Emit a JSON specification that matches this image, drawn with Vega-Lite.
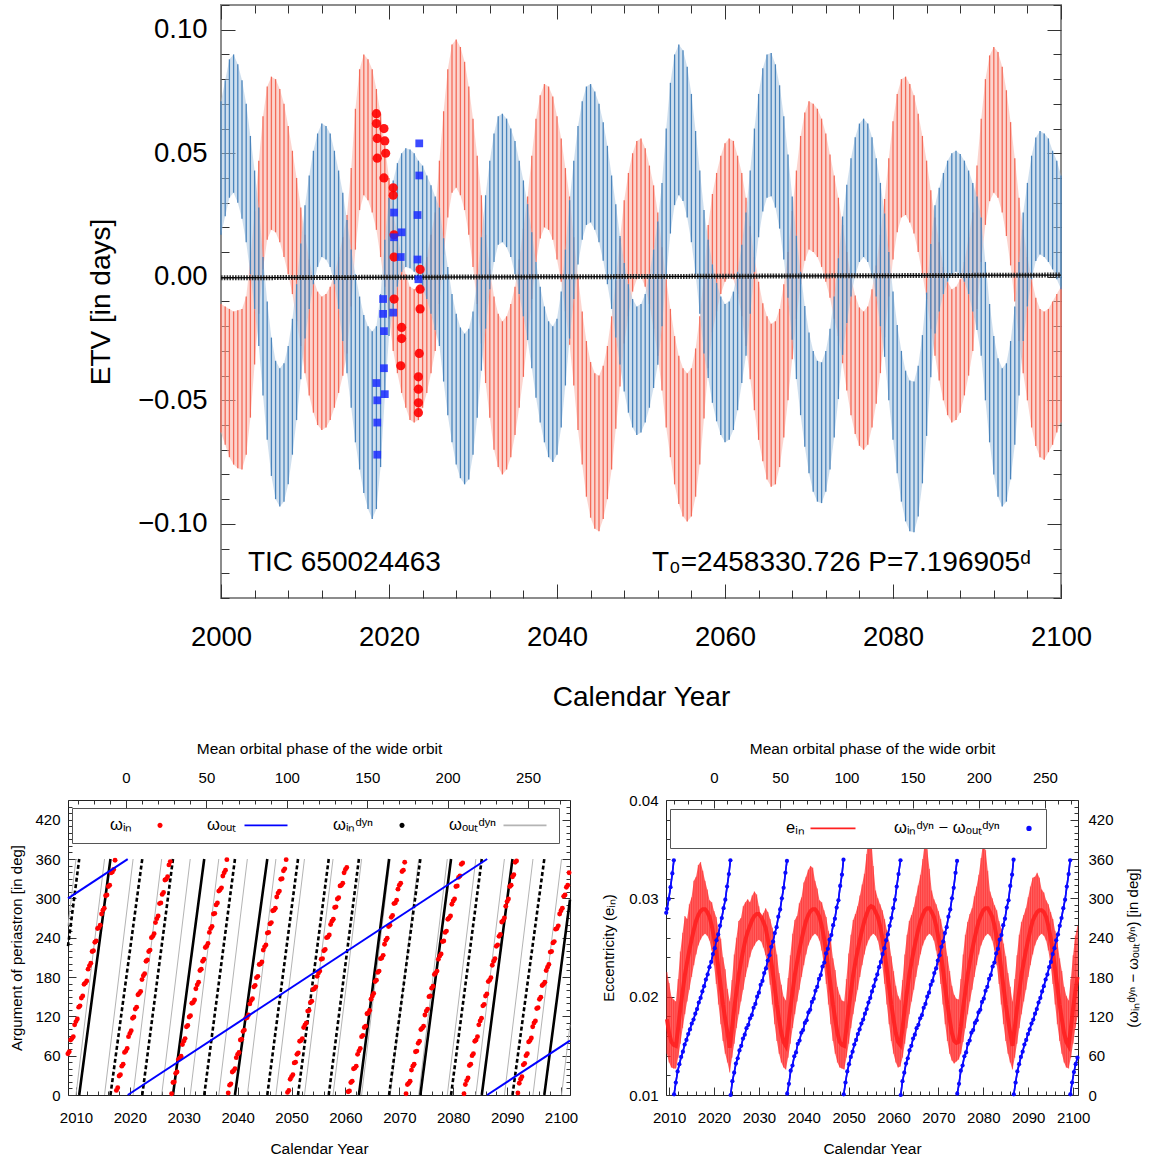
{
"$schema":"https://vega.github.io/schema/vega-lite/v6.json",
"background":"white",
"padding":{"left":9,"top":1,"right":3,"bottom":0},
"config":{"font":"Liberation Sans","axis":{"grid":false,"domain":false,"tickColor":"#333","labelColor":"#000","titleColor":"#000","titleFontWeight":"normal","labelOverlap":false,"labelFlush":false,"labelBound":false},"legend":{"labelFont":"Liberation Sans","titleFont":"Liberation Sans"}},
"resolve":{"scale":{"color":"independent"},"legend":{"color":"independent"}},
"datasets":{
"etv":[
{"x":2000,"rl":-0.063,"rh":-0.011,"bl":0.017,"bh":0.071},
{"x":2000.5,"rl":-0.068,"rh":-0.012,"bl":0.0245,"bh":0.0795},
{"x":2001,"rl":-0.073,"rh":-0.013,"bl":0.032,"bh":0.088},
{"x":2001.5,"rl":-0.076,"rh":-0.014,"bl":0.034,"bh":0.090},
{"x":2002,"rl":-0.0775,"rh":-0.0135,"bl":0.030,"bh":0.086},
{"x":2002.5,"rl":-0.078,"rh":-0.013,"bl":0.0235,"bh":0.0795},
{"x":2003,"rl":-0.072,"rh":-0.008,"bl":0.014,"bh":0.070},
{"x":2003.5,"rl":-0.057,"rh":0.0067,"bl":0.001,"bh":0.057},
{"x":2004,"rl":-0.0355,"rh":0.0265,"bl":-0.013,"bh":0.043},
{"x":2004.5,"rl":-0.015,"rh":0.047,"bl":-0.028,"bh":0.028},
{"x":2005,"rl":0.003,"rh":0.065,"bl":-0.048,"bh":0.008},
{"x":2005.5,"rl":0.015,"rh":0.077,"bl":-0.066,"bh":-0.010},
{"x":2006,"rl":0.019,"rh":0.081,"bl":-0.0806,"bh":-0.0246},
{"x":2006.5,"rl":0.018,"rh":0.080,"bl":-0.090,"bh":-0.034},
{"x":2007,"rl":0.014,"rh":0.076,"bl":-0.093,"bh":-0.037},
{"x":2007.5,"rl":0.008,"rh":0.070,"bl":-0.091,"bh":-0.035},
{"x":2008,"rl":0.001,"rh":0.061,"bl":-0.084,"bh":-0.028},
{"x":2008.5,"rl":-0.007,"rh":0.051,"bl":-0.072,"bh":-0.017},
{"x":2009,"rl":-0.018,"rh":0.040,"bl":-0.058,"bh":-0.003},
{"x":2009.5,"rl":-0.028,"rh":0.028,"bl":-0.0415,"bh":0.0135},
{"x":2010,"rl":-0.039,"rh":0.017,"bl":-0.025,"bh":0.029},
{"x":2010.5,"rl":-0.048,"rh":0.007,"bl":-0.013,"bh":0.041},
{"x":2011,"rl":-0.055,"rh":-0.001,"bl":-0.003,"bh":0.051},
{"x":2011.5,"rl":-0.060,"rh":-0.006,"bl":0.004,"bh":0.058},
{"x":2012,"rl":-0.062,"rh":-0.008,"bl":0.008,"bh":0.062},
{"x":2012.5,"rl":-0.061,"rh":-0.007,"bl":0.007,"bh":0.061},
{"x":2013,"rl":-0.058,"rh":-0.004,"bl":0.004,"bh":0.058},
{"x":2013.5,"rl":-0.053,"rh":0.001,"bl":-0.003,"bh":0.051},
{"x":2014,"rl":-0.047,"rh":0.008,"bl":-0.013,"bh":0.043},
{"x":2014.5,"rl":-0.040,"rh":0.016,"bl":-0.026,"bh":0.034},
{"x":2015,"rl":-0.031,"rh":0.025,"bl":-0.039,"bh":0.023},
{"x":2015.5,"rl":-0.012,"rh":0.044,"bl":-0.053,"bh":0.011},
{"x":2016,"rl":0.011,"rh":0.068,"bl":-0.067,"bh":0.001},
{"x":2016.5,"rl":0.027,"rh":0.084,"bl":-0.078,"bh":-0.008},
{"x":2017,"rl":0.033,"rh":0.090,"bl":-0.0875,"bh":-0.0155},
{"x":2017.5,"rl":0.031,"rh":0.088,"bl":-0.094,"bh":-0.020},
{"x":2018,"rl":0.026,"rh":0.084,"bl":-0.098,"bh":-0.022},
{"x":2018.5,"rl":0.019,"rh":0.076,"bl":-0.094,"bh":-0.020},
{"x":2019,"rl":0.008,"rh":0.066,"bl":-0.077,"bh":-0.007},
{"x":2019.5,"rl":-0.004,"rh":0.053,"bl":-0.049,"bh":0.015},
{"x":2020,"rl":-0.017,"rh":0.040,"bl":-0.024,"bh":0.032},
{"x":2020.5,"rl":-0.030,"rh":0.026,"bl":-0.013,"bh":0.039},
{"x":2021,"rl":-0.039,"rh":0.017,"bl":-0.004,"bh":0.046},
{"x":2021.5,"rl":-0.047,"rh":0.008,"bl":0.002,"bh":0.050},
{"x":2022,"rl":-0.053,"rh":0.001,"bl":0.004,"bh":0.052},
{"x":2022.5,"rl":-0.058,"rh":-0.004,"bl":0.0035,"bh":0.0515},
{"x":2023,"rl":-0.059,"rh":-0.005,"bl":0.002,"bh":0.050},
{"x":2023.5,"rl":-0.058,"rh":-0.004,"bl":-0.001,"bh":0.047},
{"x":2024,"rl":-0.053,"rh":0.001,"bl":-0.005,"bh":0.045},
{"x":2024.5,"rl":-0.047,"rh":0.008,"bl":-0.009,"bh":0.041},
{"x":2025,"rl":-0.039,"rh":0.017,"bl":-0.015,"bh":0.037},
{"x":2025.5,"rl":-0.030,"rh":0.026,"bl":-0.0215,"bh":0.0325},
{"x":2026,"rl":-0.011,"rh":0.047,"bl":-0.028,"bh":0.028},
{"x":2026.5,"rl":0.009,"rh":0.067,"bl":-0.0424,"bh":0.0156},
{"x":2027,"rl":0.024,"rh":0.084,"bl":-0.056,"bh":0.004},
{"x":2027.5,"rl":0.034,"rh":0.094,"bl":-0.067,"bh":-0.007},
{"x":2028,"rl":0.036,"rh":0.096,"bl":-0.076,"bh":-0.015},
{"x":2028.5,"rl":0.033,"rh":0.093,"bl":-0.0815,"bh":-0.0205},
{"x":2029,"rl":0.027,"rh":0.087,"bl":-0.084,"bh":-0.023},
{"x":2029.5,"rl":0.017,"rh":0.077,"bl":-0.082,"bh":-0.021},
{"x":2030,"rl":0.004,"rh":0.064,"bl":-0.072,"bh":-0.014},
{"x":2030.5,"rl":-0.011,"rh":0.049,"bl":-0.057,"bh":-0.001},
{"x":2031,"rl":-0.027,"rh":0.033,"bl":-0.038,"bh":0.016},
{"x":2031.5,"rl":-0.043,"rh":0.017,"bl":-0.021,"bh":0.033},
{"x":2032,"rl":-0.057,"rh":0.003,"bl":-0.005,"bh":0.047},
{"x":2032.5,"rl":-0.070,"rh":-0.008,"bl":0.006,"bh":0.058},
{"x":2033,"rl":-0.077,"rh":-0.015,"bl":0.013,"bh":0.065},
{"x":2033.5,"rl":-0.080,"rh":-0.018,"bl":0.014,"bh":0.066},
{"x":2034,"rl":-0.078,"rh":-0.016,"bl":0.012,"bh":0.064},
{"x":2034.5,"rl":-0.073,"rh":-0.011,"bl":0.008,"bh":0.060},
{"x":2035,"rl":-0.064,"rh":-0.004,"bl":0.001,"bh":0.055},
{"x":2035.5,"rl":-0.053,"rh":0.007,"bl":-0.007,"bh":0.047},
{"x":2036,"rl":-0.0405,"rh":0.0195,"bl":-0.016,"bh":0.039},
{"x":2036.5,"rl":-0.0255,"rh":0.0325,"bl":-0.0256,"bh":0.0294},
{"x":2037,"rl":-0.009,"rh":0.049,"bl":-0.037,"bh":0.018},
{"x":2037.5,"rl":0.006,"rh":0.064,"bl":-0.049,"bh":0.006},
{"x":2038,"rl":0.0155,"rh":0.0735,"bl":-0.059,"bh":-0.004},
{"x":2038.5,"rl":0.020,"rh":0.078,"bl":-0.067,"bh":-0.012},
{"x":2039,"rl":0.019,"rh":0.077,"bl":-0.073,"bh":-0.018},
{"x":2039.5,"rl":0.015,"rh":0.073,"bl":-0.075,"bh":-0.020},
{"x":2040,"rl":0.007,"rh":0.065,"bl":-0.072,"bh":-0.017},
{"x":2040.5,"rl":-0.002,"rh":0.056,"bl":-0.061,"bh":-0.006},
{"x":2041,"rl":-0.014,"rh":0.044,"bl":-0.044,"bh":0.011},
{"x":2041.5,"rl":-0.0275,"rh":0.0325,"bl":-0.025,"bh":0.031},
{"x":2042,"rl":-0.044,"rh":0.016,"bl":-0.009,"bh":0.047},
{"x":2042.5,"rl":-0.062,"rh":0.000,"bl":0.005,"bh":0.061},
{"x":2043,"rl":-0.076,"rh":-0.014,"bl":0.015,"bh":0.071},
{"x":2043.5,"rl":-0.089,"rh":-0.026,"bl":0.021,"bh":0.077},
{"x":2044,"rl":-0.0975,"rh":-0.0345,"bl":0.022,"bh":0.078},
{"x":2044.5,"rl":-0.102,"rh":-0.039,"bl":0.019,"bh":0.075},
{"x":2045,"rl":-0.103,"rh":-0.040,"bl":0.014,"bh":0.070},
{"x":2045.5,"rl":-0.098,"rh":-0.036,"bl":0.0065,"bh":0.0625},
{"x":2046,"rl":-0.090,"rh":-0.028,"bl":-0.003,"bh":0.053},
{"x":2046.5,"rl":-0.078,"rh":-0.016,"bl":-0.013,"bh":0.041},
{"x":2047,"rl":-0.0615,"rh":-0.0015,"bl":-0.0246,"bh":0.0294},
{"x":2047.5,"rl":-0.0444,"rh":0.0156,"bl":-0.0355,"bh":0.0165},
{"x":2048,"rl":-0.027,"rh":0.031,"bl":-0.0464,"bh":0.0056},
{"x":2048.5,"rl":-0.016,"rh":0.042,"bl":-0.055,"bh":-0.003},
{"x":2049,"rl":-0.006,"rh":0.050,"bl":-0.061,"bh":-0.009},
{"x":2049.5,"rl":-0.001,"rh":0.055,"bl":-0.064,"bh":-0.012},
{"x":2050,"rl":0.000,"rh":0.056,"bl":-0.063,"bh":-0.011},
{"x":2050.5,"rl":-0.004,"rh":0.052,"bl":-0.059,"bh":-0.007},
{"x":2051,"rl":-0.011,"rh":0.045,"bl":-0.053,"bh":0.001},
{"x":2051.5,"rl":-0.021,"rh":0.037,"bl":-0.045,"bh":0.011},
{"x":2052,"rl":-0.032,"rh":0.026,"bl":-0.0356,"bh":0.0224},
{"x":2052.5,"rl":-0.046,"rh":0.012,"bl":-0.020,"bh":0.038},
{"x":2053,"rl":-0.061,"rh":-0.001,"bl":0.000,"bh":0.060},
{"x":2053.5,"rl":-0.073,"rh":-0.013,"bl":0.0175,"bh":0.0785},
{"x":2054,"rl":-0.084,"rh":-0.024,"bl":0.029,"bh":0.090},
{"x":2054.5,"rl":-0.092,"rh":-0.032,"bl":0.033,"bh":0.094},
{"x":2055,"rl":-0.097,"rh":-0.037,"bl":0.0307,"bh":0.0917},
{"x":2055.5,"rl":-0.099,"rh":-0.039,"bl":0.024,"bh":0.085},
{"x":2056,"rl":-0.097,"rh":-0.037,"bl":0.014,"bh":0.074},
{"x":2056.5,"rl":-0.089,"rh":-0.029,"bl":0.001,"bh":0.059},
{"x":2057,"rl":-0.076,"rh":-0.016,"bl":-0.015,"bh":0.043},
{"x":2057.5,"rl":-0.0574,"rh":0.0006,"bl":-0.031,"bh":0.027},
{"x":2058,"rl":-0.037,"rh":0.021,"bl":-0.041,"bh":0.015},
{"x":2058.5,"rl":-0.0225,"rh":0.0335,"bl":-0.051,"bh":0.005},
{"x":2059,"rl":-0.014,"rh":0.042,"bl":-0.0585,"bh":-0.0025},
{"x":2059.5,"rl":-0.007,"rh":0.049,"bl":-0.064,"bh":-0.008},
{"x":2060,"rl":-0.002,"rh":0.054,"bl":-0.067,"bh":-0.011},
{"x":2060.5,"rl":0.000,"rh":0.056,"bl":-0.066,"bh":-0.010},
{"x":2061,"rl":-0.001,"rh":0.055,"bl":-0.062,"bh":-0.006},
{"x":2061.5,"rl":-0.007,"rh":0.049,"bl":-0.054,"bh":0.002},
{"x":2062,"rl":-0.016,"rh":0.042,"bl":-0.043,"bh":0.013},
{"x":2062.5,"rl":-0.028,"rh":0.032,"bl":-0.032,"bh":0.026},
{"x":2063,"rl":-0.0415,"rh":0.0205,"bl":-0.015,"bh":0.043},
{"x":2063.5,"rl":-0.054,"rh":0.008,"bl":0.002,"bh":0.060},
{"x":2064,"rl":-0.066,"rh":-0.002,"bl":0.016,"bh":0.074},
{"x":2064.5,"rl":-0.0747,"rh":-0.0107,"bl":0.0264,"bh":0.0844},
{"x":2065,"rl":-0.082,"rh":-0.016,"bl":0.032,"bh":0.090},
{"x":2065.5,"rl":-0.085,"rh":-0.019,"bl":0.0326,"bh":0.0906},
{"x":2066,"rl":-0.084,"rh":-0.018,"bl":0.028,"bh":0.086},
{"x":2066.5,"rl":-0.077,"rh":-0.013,"bl":0.0195,"bh":0.0775},
{"x":2067,"rl":-0.065,"rh":-0.003,"bl":0.007,"bh":0.065},
{"x":2067.5,"rl":-0.050,"rh":0.010,"bl":-0.0085,"bh":0.0495},
{"x":2068,"rl":-0.0334,"rh":0.0266,"bl":-0.0255,"bh":0.0325},
{"x":2068.5,"rl":-0.017,"rh":0.043,"bl":-0.0414,"bh":0.0166},
{"x":2069,"rl":-0.003,"rh":0.057,"bl":-0.056,"bh":0.002},
{"x":2069.5,"rl":0.0065,"rh":0.0665,"bl":-0.0688,"bh":-0.0118},
{"x":2070,"rl":0.011,"rh":0.071,"bl":-0.0795,"bh":-0.0225},
{"x":2070.5,"rl":0.010,"rh":0.070,"bl":-0.087,"bh":-0.030},
{"x":2071,"rl":0.008,"rh":0.068,"bl":-0.091,"bh":-0.034},
{"x":2071.5,"rl":0.004,"rh":0.064,"bl":-0.0916,"bh":-0.0346},
{"x":2072,"rl":-0.002,"rh":0.058,"bl":-0.087,"bh":-0.030},
{"x":2072.5,"rl":-0.0085,"rh":0.0495,"bl":-0.078,"bh":-0.021},
{"x":2073,"rl":-0.017,"rh":0.041,"bl":-0.065,"bh":-0.008},
{"x":2073.5,"rl":-0.024,"rh":0.032,"bl":-0.0495,"bh":0.0075},
{"x":2074,"rl":-0.035,"rh":0.021,"bl":-0.0316,"bh":0.0244},
{"x":2074.5,"rl":-0.046,"rh":0.010,"bl":-0.0187,"bh":0.0373},
{"x":2075,"rl":-0.056,"rh":0.000,"bl":-0.008,"bh":0.048},
{"x":2075.5,"rl":-0.0636,"rh":-0.0076,"bl":0.0005,"bh":0.0565},
{"x":2076,"rl":-0.0684,"rh":-0.0124,"bl":0.006,"bh":0.062},
{"x":2076.5,"rl":-0.070,"rh":-0.014,"bl":0.008,"bh":0.064},
{"x":2077,"rl":-0.068,"rh":-0.012,"bl":0.006,"bh":0.062},
{"x":2077.5,"rl":-0.061,"rh":-0.005,"bl":0.0005,"bh":0.0565},
{"x":2078,"rl":-0.0514,"rh":0.0046,"bl":-0.008,"bh":0.048},
{"x":2078.5,"rl":-0.039,"rh":0.017,"bl":-0.020,"bh":0.038},
{"x":2079,"rl":-0.0245,"rh":0.0315,"bl":-0.0324,"bh":0.0256},
{"x":2079.5,"rl":-0.008,"rh":0.048,"bl":-0.050,"bh":0.010},
{"x":2080,"rl":0.007,"rh":0.063,"bl":-0.066,"bh":-0.006},
{"x":2080.5,"rl":0.018,"rh":0.074,"bl":-0.0795,"bh":-0.0195},
{"x":2081,"rl":0.024,"rh":0.080,"bl":-0.091,"bh":-0.030},
{"x":2081.5,"rl":0.025,"rh":0.081,"bl":-0.099,"bh":-0.038},
{"x":2082,"rl":0.022,"rh":0.078,"bl":-0.103,"bh":-0.042},
{"x":2082.5,"rl":0.0175,"rh":0.0735,"bl":-0.1034,"bh":-0.0424},
{"x":2083,"rl":0.010,"rh":0.066,"bl":-0.097,"bh":-0.036},
{"x":2083.5,"rl":0.001,"rh":0.057,"bl":-0.0836,"bh":-0.0236},
{"x":2084,"rl":-0.009,"rh":0.047,"bl":-0.0644,"bh":-0.0064},
{"x":2084.5,"rl":-0.021,"rh":0.035,"bl":-0.0407,"bh":0.0133},
{"x":2085,"rl":-0.032,"rh":0.024,"bl":-0.023,"bh":0.029},
{"x":2085.5,"rl":-0.042,"rh":0.014,"bl":-0.014,"bh":0.036},
{"x":2086,"rl":-0.050,"rh":0.004,"bl":-0.007,"bh":0.042},
{"x":2086.5,"rl":-0.056,"rh":-0.002,"bl":-0.002,"bh":0.047},
{"x":2087,"rl":-0.059,"rh":-0.005,"bl":0.001,"bh":0.050},
{"x":2087.5,"rl":-0.058,"rh":-0.004,"bl":0.002,"bh":0.051},
{"x":2088,"rl":-0.055,"rh":-0.001,"bl":0.0007,"bh":0.0497},
{"x":2088.5,"rl":-0.048,"rh":0.006,"bl":-0.002,"bh":0.047},
{"x":2089,"rl":-0.040,"rh":0.016,"bl":-0.007,"bh":0.043},
{"x":2089.5,"rl":-0.030,"rh":0.026,"bl":-0.014,"bh":0.038},
{"x":2090,"rl":-0.013,"rh":0.045,"bl":-0.0215,"bh":0.0325},
{"x":2090.5,"rl":0.006,"rh":0.064,"bl":-0.032,"bh":0.024},
{"x":2091,"rl":0.021,"rh":0.080,"bl":-0.050,"bh":0.006},
{"x":2091.5,"rl":0.0306,"rh":0.0896,"bl":-0.067,"bh":-0.011},
{"x":2092,"rl":0.034,"rh":0.093,"bl":-0.080,"bh":-0.024},
{"x":2092.5,"rl":0.032,"rh":0.091,"bl":-0.089,"bh":-0.033},
{"x":2093,"rl":0.026,"rh":0.085,"bl":-0.093,"bh":-0.037},
{"x":2093.5,"rl":0.0165,"rh":0.0755,"bl":-0.091,"bh":-0.035},
{"x":2094,"rl":0.0046,"rh":0.0626,"bl":-0.082,"bh":-0.026},
{"x":2094.5,"rl":-0.010,"rh":0.048,"bl":-0.068,"bh":-0.012},
{"x":2095,"rl":-0.026,"rh":0.032,"bl":-0.048,"bh":0.006},
{"x":2095.5,"rl":-0.039,"rh":0.019,"bl":-0.026,"bh":0.026},
{"x":2096,"rl":-0.050,"rh":0.008,"bl":-0.012,"bh":0.038},
{"x":2096.5,"rl":-0.061,"rh":-0.001,"bl":-0.001,"bh":0.049},
{"x":2097,"rl":-0.0685,"rh":-0.0085,"bl":0.0064,"bh":0.0564},
{"x":2097.5,"rl":-0.073,"rh":-0.013,"bl":0.009,"bh":0.059},
{"x":2098,"rl":-0.074,"rh":-0.014,"bl":0.008,"bh":0.058},
{"x":2098.5,"rl":-0.071,"rh":-0.013,"bl":0.006,"bh":0.056},
{"x":2099,"rl":-0.068,"rh":-0.010,"bl":0.003,"bh":0.051},
{"x":2099.5,"rl":-0.063,"rh":-0.007,"bl":-0.001,"bh":0.047},
{"x":2100,"rl":-0.059,"rh":-0.004,"bl":-0.005,"bh":0.041}
],
"blk":[{"x":2000,"k":-0.0004},{"x":2050,"k":0.0001},{"x":2100,"k":0.0007}],
"obs":[
{"x":2018.5,"v":0.066,"s":"p"},{"x":2018.5,"v":0.062,"s":"p"},{"x":2019.4,"v":0.060,"s":"p"},{"x":2018.6,"v":0.056,"s":"p"},{"x":2019.5,"v":0.055,"s":"p"},{"x":2019.6,"v":0.050,"s":"p"},{"x":2018.6,"v":0.048,"s":"p"},{"x":2019.4,"v":0.040,"s":"p"},{"x":2020.5,"v":0.036,"s":"p"},{"x":2020.5,"v":0.033,"s":"p"},{"x":2020.6,"v":0.017,"s":"p"},{"x":2020.6,"v":0.008,"s":"p"},{"x":2020.6,"v":-0.009,"s":"p"},{"x":2021.5,"v":-0.0205,"s":"p"},{"x":2021.5,"v":-0.025,"s":"p"},{"x":2021.4,"v":-0.036,"s":"p"},{"x":2023.7,"v":0.003,"s":"p"},{"x":2023.7,"v":-0.005,"s":"p"},{"x":2023.7,"v":-0.013,"s":"p"},{"x":2023.6,"v":-0.031,"s":"p"},{"x":2023.5,"v":-0.0405,"s":"p"},{"x":2023.5,"v":-0.0455,"s":"p"},{"x":2023.5,"v":-0.051,"s":"p"},{"x":2023.5,"v":-0.055,"s":"p"},
{"x":2023.6,"v":0.054,"s":"s"},{"x":2023.6,"v":0.041,"s":"s"},{"x":2023.4,"v":0.025,"s":"s"},{"x":2023.4,"v":0.007,"s":"s"},{"x":2023.5,"v":-0.001,"s":"s"},{"x":2020.6,"v":0.026,"s":"s"},{"x":2021.5,"v":0.018,"s":"s"},{"x":2021.4,"v":0.008,"s":"s"},{"x":2020.6,"v":0.016,"s":"s"},{"x":2019.3,"v":-0.009,"s":"s"},{"x":2019.3,"v":-0.015,"s":"s"},{"x":2019.4,"v":-0.022,"s":"s"},{"x":2019.4,"v":-0.037,"s":"s"},{"x":2018.5,"v":-0.043,"s":"s"},{"x":2018.6,"v":-0.050,"s":"s"},{"x":2018.6,"v":-0.059,"s":"s"},{"x":2018.6,"v":-0.072,"s":"s"},{"x":2020.5,"v":-0.0145,"s":"s"},{"x":2019.5,"v":-0.0475,"s":"s"}
],
"win":[
{"t":2008.5,"w":63},{"t":2008.75,"w":66},{"t":2009,"w":84},{"t":2009.25,"w":86},{"t":2009.5,"w":89},{"t":2009.75,"w":107},{"t":2010,"w":112},{"t":2010.25,"w":116},{"t":2010.5,"w":134},{"t":2010.75,"w":136},{"t":2011,"w":148},{"t":2011.25,"w":151},{"t":2011.5,"w":169},{"t":2011.75,"w":171},{"t":2012,"w":174},{"t":2012.25,"w":192},{"t":2012.5,"w":197},{"t":2012.75,"w":201},{"t":2013,"w":219},{"t":2013.25,"w":220},{"t":2013.5,"w":233},{"t":2013.75,"w":235},{"t":2014,"w":254},{"t":2014.25,"w":255},{"t":2014.5,"w":259},{"t":2014.75,"w":276},{"t":2015,"w":282},{"t":2015.25,"w":285},{"t":2015.5,"w":304},{"t":2015.75,"w":305},{"t":2016,"w":318},{"t":2016.25,"w":320},{"t":2016.5,"w":339},{"t":2016.75,"w":340},{"t":2017,"w":344},{"t":2017.25,"w":358},
{"t":2017.5,"w":7},{"t":2017.75,"w":11},{"t":2018,"w":29},{"t":2018.25,"w":31},{"t":2018.5,"w":44},{"t":2018.75,"w":47},{"t":2019,"w":65},{"t":2019.25,"w":67},{"t":2019.5,"w":71},{"t":2019.75,"w":89},{"t":2020,"w":94},{"t":2020.25,"w":98},{"t":2020.5,"w":117},{"t":2020.75,"w":119},{"t":2021,"w":131},{"t":2021.25,"w":134},{"t":2021.5,"w":153},{"t":2021.75,"w":155},{"t":2022,"w":158},{"t":2022.25,"w":176},{"t":2022.5,"w":182},{"t":2022.75,"w":185},{"t":2023,"w":204},{"t":2023.25,"w":206},{"t":2023.5,"w":219},{"t":2023.75,"w":221},{"t":2024,"w":240},{"t":2024.25,"w":242},{"t":2024.5,"w":246},{"t":2024.75,"w":263},{"t":2025,"w":269},{"t":2025.25,"w":273},{"t":2025.5,"w":292},{"t":2025.75,"w":293},{"t":2026,"w":306},{"t":2026.25,"w":309},{"t":2026.5,"w":328},{"t":2026.75,"w":329},{"t":2027,"w":333},{"t":2027.25,"w":351},{"t":2027.5,"w":356},
{"t":2027.75,"w":2},{"t":2028,"w":19},{"t":2028.25,"w":20},{"t":2028.5,"w":33},{"t":2028.75,"w":35},{"t":2029,"w":54},{"t":2029.25,"w":56},{"t":2029.5,"w":59},{"t":2029.75,"w":77},{"t":2030,"w":82},{"t":2030.25,"w":86},{"t":2030.5,"w":104},{"t":2030.75,"w":106},{"t":2031,"w":119},{"t":2031.25,"w":121},{"t":2031.5,"w":140},{"t":2031.75,"w":141},{"t":2032,"w":145},{"t":2032.25,"w":162},{"t":2032.5,"w":168},{"t":2032.75,"w":172},{"t":2033,"w":190},{"t":2033.25,"w":192},{"t":2033.5,"w":204},{"t":2033.75,"w":207},{"t":2034,"w":225},{"t":2034.25,"w":227},{"t":2034.5,"w":231},{"t":2034.75,"w":248},{"t":2035,"w":254},{"t":2035.25,"w":257},{"t":2035.5,"w":276},{"t":2035.75,"w":277},{"t":2036,"w":290},{"t":2036.25,"w":293},{"t":2036.5,"w":311},{"t":2036.75,"w":313},{"t":2037,"w":316},{"t":2037.25,"w":334},{"t":2037.5,"w":339},{"t":2037.75,"w":343},{"t":2038,"w":359},
{"t":2038.25,"w":3},{"t":2038.5,"w":15},{"t":2038.75,"w":17},{"t":2039,"w":35},{"t":2039.25,"w":37},{"t":2039.5,"w":40},{"t":2039.75,"w":57},{"t":2040,"w":62},{"t":2040.25,"w":65},{"t":2040.5,"w":84},{"t":2040.75,"w":85},{"t":2041,"w":97},{"t":2041.25,"w":99},{"t":2041.5,"w":117},{"t":2041.75,"w":118},{"t":2042,"w":122},{"t":2042.25,"w":139},{"t":2042.5,"w":144},{"t":2042.75,"w":147},{"t":2043,"w":165},{"t":2043.25,"w":167},{"t":2043.5,"w":179},{"t":2043.75,"w":181},{"t":2044,"w":199},{"t":2044.25,"w":200},{"t":2044.5,"w":203},{"t":2044.75,"w":221},{"t":2045,"w":226},{"t":2045.25,"w":229},{"t":2045.5,"w":247},{"t":2045.75,"w":248},{"t":2046,"w":261},{"t":2046.25,"w":263},{"t":2046.5,"w":281},{"t":2046.75,"w":282},{"t":2047,"w":285},{"t":2047.25,"w":302},{"t":2047.5,"w":308},{"t":2047.75,"w":311},{"t":2048,"w":329},{"t":2048.25,"w":330},{"t":2048.5,"w":342},{"t":2048.75,"w":345},{"t":2049,"w":359},
{"t":2049.25,"w":4},{"t":2049.5,"w":7},{"t":2049.75,"w":24},{"t":2050,"w":28},{"t":2050.25,"w":31},{"t":2050.5,"w":49},{"t":2050.75,"w":50},{"t":2051,"w":62},{"t":2051.25,"w":64},{"t":2051.5,"w":82},{"t":2051.75,"w":83},{"t":2052,"w":86},{"t":2052.25,"w":103},{"t":2052.5,"w":107},{"t":2052.75,"w":110},{"t":2053,"w":128},{"t":2053.25,"w":129},{"t":2053.5,"w":141},{"t":2053.75,"w":143},{"t":2054,"w":161},{"t":2054.25,"w":162},{"t":2054.5,"w":165},{"t":2054.75,"w":181},{"t":2055,"w":186},{"t":2055.25,"w":189},{"t":2055.5,"w":207},{"t":2055.75,"w":208},{"t":2056,"w":220},{"t":2056.25,"w":222},{"t":2056.5,"w":240},{"t":2056.75,"w":241},{"t":2057,"w":244},{"t":2057.25,"w":260},{"t":2057.5,"w":265},{"t":2057.75,"w":268},{"t":2058,"w":286},{"t":2058.25,"w":287},{"t":2058.5,"w":299},{"t":2058.75,"w":301},{"t":2059,"w":319},{"t":2059.25,"w":320},{"t":2059.5,"w":323},{"t":2059.75,"w":339},{"t":2060,"w":344},{"t":2060.25,"w":347},
{"t":2060.5,"w":5},{"t":2060.75,"w":6},{"t":2061,"w":19},{"t":2061.25,"w":21},{"t":2061.5,"w":40},{"t":2061.75,"w":41},{"t":2062,"w":44},{"t":2062.25,"w":62},{"t":2062.5,"w":67},{"t":2062.75,"w":71},{"t":2063,"w":89},{"t":2063.25,"w":91},{"t":2063.5,"w":103},{"t":2063.75,"w":105},{"t":2064,"w":124},{"t":2064.25,"w":125},{"t":2064.5,"w":129},{"t":2064.75,"w":146},{"t":2065,"w":151},{"t":2065.25,"w":155},{"t":2065.5,"w":173},{"t":2065.75,"w":175},{"t":2066,"w":187},{"t":2066.25,"w":189},{"t":2066.5,"w":208},{"t":2066.75,"w":209},{"t":2067,"w":213},{"t":2067.25,"w":230},{"t":2067.5,"w":236},{"t":2067.75,"w":239},{"t":2068,"w":257},{"t":2068.25,"w":259},{"t":2068.5,"w":271},{"t":2068.75,"w":274},{"t":2069,"w":292},{"t":2069.25,"w":293},{"t":2069.5,"w":297},{"t":2069.75,"w":314},{"t":2070,"w":320},{"t":2070.25,"w":323},{"t":2070.5,"w":341},{"t":2070.75,"w":343},{"t":2071,"w":355},
{"t":2071.25,"w":2},{"t":2071.5,"w":16},{"t":2071.75,"w":18},{"t":2072,"w":21},{"t":2072.25,"w":38},{"t":2072.5,"w":44},{"t":2072.75,"w":47},{"t":2073,"w":66},{"t":2073.25,"w":67},{"t":2073.5,"w":79},{"t":2073.75,"w":82},{"t":2074,"w":100},{"t":2074.25,"w":102},{"t":2074.5,"w":105},{"t":2074.75,"w":122},{"t":2075,"w":128},{"t":2075.25,"w":131},{"t":2075.5,"w":150},{"t":2075.75,"w":151},{"t":2076,"w":163},{"t":2076.25,"w":166},{"t":2076.5,"w":184},{"t":2076.75,"w":186},{"t":2077,"w":189},{"t":2077.25,"w":207},{"t":2077.5,"w":212},{"t":2077.75,"w":215},{"t":2078,"w":234},{"t":2078.25,"w":235},{"t":2078.5,"w":248},{"t":2078.75,"w":250},{"t":2079,"w":268},{"t":2079.25,"w":270},{"t":2079.5,"w":273},{"t":2079.75,"w":291},{"t":2080,"w":296},{"t":2080.25,"w":299},{"t":2080.5,"w":318},{"t":2080.75,"w":319},{"t":2081,"w":332},{"t":2081.25,"w":334},{"t":2081.5,"w":352},{"t":2081.75,"w":354},
{"t":2082,"w":2},{"t":2082.25,"w":16},{"t":2082.5,"w":22},{"t":2082.75,"w":26},{"t":2083,"w":45},{"t":2083.25,"w":47},{"t":2083.5,"w":60},{"t":2083.75,"w":63},{"t":2084,"w":82},{"t":2084.25,"w":84},{"t":2084.5,"w":89},{"t":2084.75,"w":107},{"t":2085,"w":113},{"t":2085.25,"w":117},{"t":2085.5,"w":136},{"t":2085.75,"w":138},{"t":2086,"w":151},{"t":2086.25,"w":154},{"t":2086.5,"w":173},{"t":2086.75,"w":175},{"t":2087,"w":179},{"t":2087.25,"w":198},{"t":2087.5,"w":204},{"t":2087.75,"w":208},{"t":2088,"w":227},{"t":2088.25,"w":229},{"t":2088.5,"w":242},{"t":2088.75,"w":245},{"t":2089,"w":264},{"t":2089.25,"w":266},{"t":2089.5,"w":270},{"t":2089.75,"w":288},{"t":2090,"w":295},{"t":2090.25,"w":299},{"t":2090.5,"w":318},{"t":2090.75,"w":320},{"t":2091,"w":333},{"t":2091.25,"w":336},{"t":2091.5,"w":355},{"t":2091.75,"w":357},
{"t":2092,"w":3},{"t":2092.25,"w":18},{"t":2092.5,"w":24},{"t":2092.75,"w":28},{"t":2093,"w":46},{"t":2093.25,"w":48},{"t":2093.5,"w":60},{"t":2093.75,"w":63},{"t":2094,"w":81},{"t":2094.25,"w":83},{"t":2094.5,"w":87},{"t":2094.75,"w":104},{"t":2095,"w":110},{"t":2095.25,"w":113},{"t":2095.5,"w":132},{"t":2095.75,"w":133},{"t":2096,"w":146},{"t":2096.25,"w":149},{"t":2096.5,"w":167},{"t":2096.75,"w":169},{"t":2097,"w":172},{"t":2097.25,"w":190},{"t":2097.5,"w":195},{"t":2097.75,"w":199},{"t":2098,"w":218},{"t":2098.25,"w":219},{"t":2098.5,"w":232},{"t":2098.75,"w":234},{"t":2099,"w":253},{"t":2099.25,"w":254},{"t":2099.5,"w":258},{"t":2099.75,"w":276},{"t":2100,"w":281},{"t":2100.25,"w":285},{"t":2100.5,"w":303},{"t":2100.75,"w":305},{"t":2101,"w":317},{"t":2101.25,"w":320},{"t":2101.5,"w":339}
],
"idyn":[
{"t":2008.52,"w":227,"g":0,"q":"d"},{"t":2010.6,"w":360,"g":0,"q":"d"},
{"t":2010.6,"w":0,"g":1,"q":"s"},{"t":2016.4,"w":360,"g":1,"q":"s"},
{"t":2016.4,"w":0,"g":2,"q":"d"},{"t":2022.3,"w":360,"g":2,"q":"d"},
{"t":2022.3,"w":0,"g":3,"q":"d"},{"t":2028.0,"w":360,"g":3,"q":"d"},
{"t":2028.0,"w":0,"g":4,"q":"s"},{"t":2033.8,"w":360,"g":4,"q":"s"},
{"t":2033.8,"w":0,"g":5,"q":"d"},{"t":2039.5,"w":360,"g":5,"q":"d"},
{"t":2039.5,"w":0,"g":6,"q":"s"},{"t":2045.5,"w":360,"g":6,"q":"s"},
{"t":2045.5,"w":0,"g":7,"q":"d"},{"t":2051.2,"w":360,"g":7,"q":"d"},
{"t":2051.2,"w":0,"g":8,"q":"d"},{"t":2056.9,"w":360,"g":8,"q":"d"},
{"t":2056.9,"w":0,"g":9,"q":"d"},{"t":2062.5,"w":360,"g":9,"q":"d"},
{"t":2062.5,"w":0,"g":10,"q":"s"},{"t":2068.1,"w":360,"g":10,"q":"s"},
{"t":2068.1,"w":0,"g":11,"q":"d"},{"t":2073.9,"w":360,"g":11,"q":"d"},
{"t":2073.9,"w":0,"g":12,"q":"s"},{"t":2079.6,"w":360,"g":12,"q":"s"},
{"t":2079.6,"w":0,"g":13,"q":"d"},{"t":2085.3,"w":360,"g":13,"q":"d"},
{"t":2085.3,"w":0,"g":14,"q":"s"},{"t":2091.0,"w":360,"g":14,"q":"s"},
{"t":2091.0,"w":0,"g":15,"q":"d"},{"t":2096.9,"w":360,"g":15,"q":"d"},
{"t":2096.9,"w":0,"g":16,"q":"s"},{"t":2101.67,"w":298,"g":16,"q":"s"}
],
"odyn":[
{"t":2008.52,"w":258,"g":0},{"t":2010.0,"w":360,"g":0},
{"t":2010.0,"w":0,"g":1},{"t":2015.3,"w":360,"g":1},
{"t":2015.3,"w":0,"g":2},{"t":2020.6,"w":360,"g":2},
{"t":2020.6,"w":0,"g":3},{"t":2025.9,"w":360,"g":3},
{"t":2025.9,"w":0,"g":4},{"t":2031.2,"w":360,"g":4},
{"t":2031.2,"w":0,"g":5},{"t":2036.5,"w":360,"g":5},
{"t":2036.5,"w":0,"g":6},{"t":2041.8,"w":360,"g":6},
{"t":2041.8,"w":0,"g":7},{"t":2047.1,"w":360,"g":7},
{"t":2047.1,"w":0,"g":8},{"t":2052.4,"w":360,"g":8},
{"t":2052.4,"w":0,"g":9},{"t":2057.7,"w":360,"g":9},
{"t":2057.7,"w":0,"g":10},{"t":2063.0,"w":360,"g":10},
{"t":2063.0,"w":0,"g":11},{"t":2068.3,"w":360,"g":11},
{"t":2068.3,"w":0,"g":12},{"t":2073.6,"w":360,"g":12},
{"t":2073.6,"w":0,"g":13},{"t":2078.9,"w":360,"g":13},
{"t":2078.9,"w":0,"g":14},{"t":2084.2,"w":360,"g":14},
{"t":2084.2,"w":0,"g":15},{"t":2089.5,"w":360,"g":15},
{"t":2089.5,"w":0,"g":16},{"t":2094.8,"w":360,"g":16},
{"t":2094.8,"w":0,"g":17},{"t":2100.1,"w":360,"g":17},
{"t":2100.1,"w":0,"g":18},{"t":2101.67,"w":107,"g":18}
],
"wout":[
{"t":2008.52,"w":300,"g":1},{"t":2019.6,"w":359.8,"g":1},
{"t":2019.6,"w":0,"g":2},{"t":2086.3,"w":360,"g":2},
{"t":2086.3,"w":0,"g":3},{"t":2101.67,"w":83,"g":3}
],
"ecc":[
{"t":2009.5,"lo":0.0142,"hi":0.0225,"mid":0.0177},{"t":2010,"lo":0.0133,"hi":0.0214,"mid":0.0163},{"t":2010.5,"lo":0.0128,"hi":0.0200,"mid":0.0154},{"t":2011,"lo":0.0127,"hi":0.0197,"mid":0.0151},
{"t":2011.5,"lo":0.0127,"hi":0.0195,"mid":0.0150},{"t":2012,"lo":0.0138,"hi":0.0218,"mid":0.0168},{"t":2012.5,"lo":0.0152,"hi":0.0246,"mid":0.0188},{"t":2013,"lo":0.0168,"hi":0.0265,"mid":0.0205},{"t":2013.5,"lo":0.0182,"hi":0.0282,"mid":0.0222},{"t":2014,"lo":0.0195,"hi":0.0279,"mid":0.0235},{"t":2014.5,"lo":0.0207,"hi":0.0294,"mid":0.0247},{"t":2015,"lo":0.0220,"hi":0.0301,"mid":0.0258},{"t":2015.5,"lo":0.0232,"hi":0.0318,"mid":0.0268},{"t":2016,"lo":0.0243,"hi":0.0322,"mid":0.0277},{"t":2016.5,"lo":0.0252,"hi":0.0334,"mid":0.0283},{"t":2017,"lo":0.0258,"hi":0.0337,"mid":0.0287},{"t":2017.5,"lo":0.0262,"hi":0.0328,"mid":0.0289},{"t":2018,"lo":0.0264,"hi":0.0318,"mid":0.0289},{"t":2018.5,"lo":0.0262,"hi":0.0309,"mid":0.0286},{"t":2019,"lo":0.0257,"hi":0.0298,"mid":0.0281},{"t":2019.5,"lo":0.0247,"hi":0.0296,"mid":0.0272},{"t":2020,"lo":0.0232,"hi":0.0287,"mid":0.0260},{"t":2020.5,"lo":0.0213,"hi":0.0281,"mid":0.0245},{"t":2021,"lo":0.0192,"hi":0.0268,"mid":0.0228},{"t":2021.5,"lo":0.0172,"hi":0.0259,"mid":0.0210},{"t":2022,"lo":0.0155,"hi":0.0240,"mid":0.0192},{"t":2022.5,"lo":0.0142,"hi":0.0228,"mid":0.0177},{"t":2023,"lo":0.0133,"hi":0.0208,"mid":0.0163},
{"t":2023.5,"lo":0.0123,"hi":0.0195,"mid":0.0148},{"t":2024,"lo":0.0138,"hi":0.0217,"mid":0.0168},{"t":2024.5,"lo":0.0152,"hi":0.0243,"mid":0.0188},{"t":2025,"lo":0.0168,"hi":0.0260,"mid":0.0205},{"t":2025.5,"lo":0.0182,"hi":0.0277,"mid":0.0222},{"t":2026,"lo":0.0195,"hi":0.0280,"mid":0.0235},{"t":2026.5,"lo":0.0207,"hi":0.0292,"mid":0.0247},{"t":2027,"lo":0.0220,"hi":0.0296,"mid":0.0258},{"t":2027.5,"lo":0.0230,"hi":0.0299,"mid":0.0266},{"t":2028,"lo":0.0240,"hi":0.0296,"mid":0.0272},{"t":2028.5,"lo":0.0248,"hi":0.0303,"mid":0.0278},{"t":2029,"lo":0.0252,"hi":0.0307,"mid":0.0282},{"t":2029.5,"lo":0.0256,"hi":0.0304,"mid":0.0284},{"t":2030,"lo":0.0258,"hi":0.0292,"mid":0.0284},{"t":2030.5,"lo":0.0256,"hi":0.0280,"mid":0.0281},{"t":2031,"lo":0.0250,"hi":0.0285,"mid":0.0276},{"t":2031.5,"lo":0.0242,"hi":0.0290,"mid":0.0270},{"t":2032,"lo":0.0230,"hi":0.0286,"mid":0.0258},{"t":2032.5,"lo":0.0212,"hi":0.0279,"mid":0.0244},{"t":2033,"lo":0.0192,"hi":0.0270,"mid":0.0228},{"t":2033.5,"lo":0.0172,"hi":0.0256,"mid":0.0210},{"t":2034,"lo":0.0155,"hi":0.0243,"mid":0.0192},{"t":2034.5,"lo":0.0142,"hi":0.0224,"mid":0.0177},{"t":2035,"lo":0.0133,"hi":0.0212,"mid":0.0163},{"t":2035.5,"lo":0.0128,"hi":0.0200,"mid":0.0154},
{"t":2036,"lo":0.0126,"hi":0.0196,"mid":0.0150},{"t":2036.5,"lo":0.0138,"hi":0.0219,"mid":0.0168},{"t":2037,"lo":0.0152,"hi":0.0242,"mid":0.0188},{"t":2037.5,"lo":0.0168,"hi":0.0264,"mid":0.0205},{"t":2038,"lo":0.0182,"hi":0.0278,"mid":0.0222},{"t":2038.5,"lo":0.0195,"hi":0.0282,"mid":0.0235},{"t":2039,"lo":0.0207,"hi":0.0295,"mid":0.0247},{"t":2039.5,"lo":0.0220,"hi":0.0301,"mid":0.0258},{"t":2040,"lo":0.0232,"hi":0.0316,"mid":0.0268},{"t":2040.5,"lo":0.0243,"hi":0.0322,"mid":0.0277},{"t":2041,"lo":0.0252,"hi":0.0329,"mid":0.0283},{"t":2041.5,"lo":0.0258,"hi":0.0333,"mid":0.0287},{"t":2042,"lo":0.0262,"hi":0.0331,"mid":0.0289},{"t":2042.5,"lo":0.0264,"hi":0.0318,"mid":0.0289},{"t":2043,"lo":0.0262,"hi":0.0310,"mid":0.0286},{"t":2043.5,"lo":0.0257,"hi":0.0298,"mid":0.0281},{"t":2044,"lo":0.0247,"hi":0.0296,"mid":0.0272},{"t":2044.5,"lo":0.0232,"hi":0.0288,"mid":0.0260},{"t":2045,"lo":0.0213,"hi":0.0281,"mid":0.0245},{"t":2045.5,"lo":0.0192,"hi":0.0267,"mid":0.0228},{"t":2046,"lo":0.0172,"hi":0.0257,"mid":0.0210},{"t":2046.5,"lo":0.0155,"hi":0.0239,"mid":0.0192},{"t":2047,"lo":0.0142,"hi":0.0227,"mid":0.0177},{"t":2047.5,"lo":0.0133,"hi":0.0210,"mid":0.0163},{"t":2048,"lo":0.0128,"hi":0.0202,"mid":0.0154},{"t":2048.5,"lo":0.0127,"hi":0.0196,"mid":0.0151},
{"t":2049,"lo":0.0126,"hi":0.0195,"mid":0.0150},{"t":2049.5,"lo":0.0138,"hi":0.0218,"mid":0.0168},{"t":2050,"lo":0.0152,"hi":0.0244,"mid":0.0188},{"t":2050.5,"lo":0.0168,"hi":0.0263,"mid":0.0205},{"t":2051,"lo":0.0182,"hi":0.0278,"mid":0.0222},{"t":2051.5,"lo":0.0195,"hi":0.0284,"mid":0.0235},{"t":2052,"lo":0.0207,"hi":0.0292,"mid":0.0247},{"t":2052.5,"lo":0.0220,"hi":0.0303,"mid":0.0258},{"t":2053,"lo":0.0232,"hi":0.0314,"mid":0.0268},{"t":2053.5,"lo":0.0243,"hi":0.0325,"mid":0.0277},{"t":2054,"lo":0.0252,"hi":0.0345,"mid":0.0284},{"t":2054.5,"lo":0.0258,"hi":0.0369,"mid":0.0290},{"t":2055,"lo":0.0262,"hi":0.0362,"mid":0.0292},{"t":2055.5,"lo":0.0264,"hi":0.0333,"mid":0.0291},{"t":2056,"lo":0.0262,"hi":0.0308,"mid":0.0286},{"t":2056.5,"lo":0.0257,"hi":0.0300,"mid":0.0281},{"t":2057,"lo":0.0247,"hi":0.0294,"mid":0.0272},{"t":2057.5,"lo":0.0232,"hi":0.0288,"mid":0.0260},{"t":2058,"lo":0.0213,"hi":0.0279,"mid":0.0245},{"t":2058.5,"lo":0.0192,"hi":0.0268,"mid":0.0228},{"t":2059,"lo":0.0172,"hi":0.0256,"mid":0.0210},{"t":2059.5,"lo":0.0155,"hi":0.0241,"mid":0.0192},{"t":2060,"lo":0.0142,"hi":0.0226,"mid":0.0177},{"t":2060.5,"lo":0.0133,"hi":0.0211,"mid":0.0163},{"t":2061,"lo":0.0128,"hi":0.0201,"mid":0.0154},
{"t":2061.5,"lo":0.0129,"hi":0.0196,"mid":0.0151},{"t":2062,"lo":0.0138,"hi":0.0217,"mid":0.0168},{"t":2062.5,"lo":0.0152,"hi":0.0243,"mid":0.0188},{"t":2063,"lo":0.0168,"hi":0.0263,"mid":0.0205},{"t":2063.5,"lo":0.0182,"hi":0.0277,"mid":0.0222},{"t":2064,"lo":0.0195,"hi":0.0283,"mid":0.0235},{"t":2064.5,"lo":0.0207,"hi":0.0291,"mid":0.0247},{"t":2065,"lo":0.0220,"hi":0.0302,"mid":0.0258},{"t":2065.5,"lo":0.0232,"hi":0.0313,"mid":0.0268},{"t":2066,"lo":0.0243,"hi":0.0324,"mid":0.0277},{"t":2066.5,"lo":0.0252,"hi":0.0340,"mid":0.0283},{"t":2067,"lo":0.0258,"hi":0.0358,"mid":0.0288},{"t":2067.5,"lo":0.0262,"hi":0.0350,"mid":0.0290},{"t":2068,"lo":0.0264,"hi":0.0330,"mid":0.0290},{"t":2068.5,"lo":0.0262,"hi":0.0308,"mid":0.0286},{"t":2069,"lo":0.0257,"hi":0.0299,"mid":0.0281},{"t":2069.5,"lo":0.0247,"hi":0.0294,"mid":0.0272},{"t":2070,"lo":0.0232,"hi":0.0287,"mid":0.0260},{"t":2070.5,"lo":0.0213,"hi":0.0279,"mid":0.0245},{"t":2071,"lo":0.0192,"hi":0.0268,"mid":0.0228},{"t":2071.5,"lo":0.0172,"hi":0.0256,"mid":0.0210},{"t":2072,"lo":0.0155,"hi":0.0241,"mid":0.0192},{"t":2072.5,"lo":0.0142,"hi":0.0226,"mid":0.0177},{"t":2073,"lo":0.0135,"hi":0.0211,"mid":0.0163},{"t":2073.5,"lo":0.0132,"hi":0.0202,"mid":0.0155},{"t":2074,"lo":0.0134,"hi":0.0198,"mid":0.0153},
{"t":2074.5,"lo":0.0136,"hi":0.0197,"mid":0.0154},{"t":2075,"lo":0.0142,"hi":0.0218,"mid":0.0170},{"t":2075.5,"lo":0.0154,"hi":0.0243,"mid":0.0189},{"t":2076,"lo":0.0168,"hi":0.0263,"mid":0.0205},{"t":2076.5,"lo":0.0182,"hi":0.0276,"mid":0.0222},{"t":2077,"lo":0.0195,"hi":0.0284,"mid":0.0235},{"t":2077.5,"lo":0.0207,"hi":0.0290,"mid":0.0247},{"t":2078,"lo":0.0220,"hi":0.0302,"mid":0.0258},{"t":2078.5,"lo":0.0232,"hi":0.0312,"mid":0.0268},{"t":2079,"lo":0.0243,"hi":0.0324,"mid":0.0277},{"t":2079.5,"lo":0.0252,"hi":0.0341,"mid":0.0283},{"t":2080,"lo":0.0258,"hi":0.0358,"mid":0.0288},{"t":2080.5,"lo":0.0262,"hi":0.0349,"mid":0.0290},{"t":2081,"lo":0.0264,"hi":0.0328,"mid":0.0290},{"t":2081.5,"lo":0.0262,"hi":0.0307,"mid":0.0286},{"t":2082,"lo":0.0257,"hi":0.0300,"mid":0.0281},{"t":2082.5,"lo":0.0247,"hi":0.0293,"mid":0.0272},{"t":2083,"lo":0.0232,"hi":0.0288,"mid":0.0260},{"t":2083.5,"lo":0.0213,"hi":0.0277,"mid":0.0245},{"t":2084,"lo":0.0192,"hi":0.0269,"mid":0.0228},{"t":2084.5,"lo":0.0172,"hi":0.0254,"mid":0.0210},{"t":2085,"lo":0.0155,"hi":0.0241,"mid":0.0192},{"t":2085.5,"lo":0.0142,"hi":0.0224,"mid":0.0177},{"t":2086,"lo":0.0133,"hi":0.0210,"mid":0.0163},
{"t":2086.5,"lo":0.0126,"hi":0.0195,"mid":0.0150},{"t":2087,"lo":0.0138,"hi":0.0218,"mid":0.0168},{"t":2087.5,"lo":0.0152,"hi":0.0242,"mid":0.0188},{"t":2088,"lo":0.0168,"hi":0.0263,"mid":0.0205},{"t":2088.5,"lo":0.0182,"hi":0.0276,"mid":0.0222},{"t":2089,"lo":0.0195,"hi":0.0283,"mid":0.0235},{"t":2089.5,"lo":0.0207,"hi":0.0290,"mid":0.0247},{"t":2090,"lo":0.0220,"hi":0.0301,"mid":0.0258},{"t":2090.5,"lo":0.0232,"hi":0.0312,"mid":0.0268},{"t":2091,"lo":0.0243,"hi":0.0321,"mid":0.0277},{"t":2091.5,"lo":0.0252,"hi":0.0322,"mid":0.0282},{"t":2092,"lo":0.0258,"hi":0.0326,"mid":0.0286},{"t":2092.5,"lo":0.0262,"hi":0.0321,"mid":0.0288},{"t":2093,"lo":0.0264,"hi":0.0309,"mid":0.0288},{"t":2093.5,"lo":0.0262,"hi":0.0306,"mid":0.0286},{"t":2094,"lo":0.0257,"hi":0.0298,"mid":0.0281},{"t":2094.5,"lo":0.0247,"hi":0.0294,"mid":0.0272},{"t":2095,"lo":0.0232,"hi":0.0286,"mid":0.0260},{"t":2095.5,"lo":0.0213,"hi":0.0279,"mid":0.0245},{"t":2096,"lo":0.0192,"hi":0.0267,"mid":0.0228},{"t":2096.5,"lo":0.0172,"hi":0.0256,"mid":0.0210},{"t":2097,"lo":0.0155,"hi":0.0239,"mid":0.0192},{"t":2097.5,"lo":0.0142,"hi":0.0226,"mid":0.0177},{"t":2098,"lo":0.0133,"hi":0.0210,"mid":0.0163},{"t":2098.5,"lo":0.0128,"hi":0.0201,"mid":0.0154},
{"t":2099,"lo":0.0127,"hi":0.0196,"mid":0.0150},{"t":2099.5,"lo":0.0138,"hi":0.0218,"mid":0.0168},{"t":2100,"lo":0.0152,"hi":0.0242,"mid":0.0188},{"t":2100.5,"lo":0.0168,"hi":0.0262,"mid":0.0205},{"t":2101,"lo":0.0180,"hi":0.0272,"mid":0.0220}
],
"dw":[
{"t":2009.35,"d":278,"g":0},{"t":2009.53,"d":284,"g":0},{"t":2009.92,"d":299,"g":0},{"t":2010.31,"d":317,"g":0},{"t":2010.71,"d":338,"g":0},{"t":2011.05,"d":358,"g":0},
{"t":2011.10,"d":1,"g":1},{"t":2011.49,"d":19,"g":1},{"t":2011.89,"d":36,"g":1},{"t":2012.28,"d":47,"g":1},{"t":2012.68,"d":58,"g":1},{"t":2013.07,"d":66,"g":1},{"t":2013.46,"d":77,"g":1},{"t":2013.86,"d":84,"g":1},{"t":2014.25,"d":93,"g":1},{"t":2014.64,"d":100,"g":1},{"t":2015.04,"d":109,"g":1},{"t":2015.43,"d":115,"g":1},{"t":2015.83,"d":124,"g":1},{"t":2016.22,"d":131,"g":1},{"t":2016.61,"d":141,"g":1},{"t":2017.01,"d":148,"g":1},{"t":2017.40,"d":158,"g":1},{"t":2017.79,"d":166,"g":1},{"t":2018.19,"d":176,"g":1},{"t":2018.58,"d":184,"g":1},{"t":2018.98,"d":195,"g":1},{"t":2019.37,"d":203,"g":1},{"t":2019.76,"d":215,"g":1},{"t":2020.16,"d":224,"g":1},{"t":2020.55,"d":236,"g":1},{"t":2020.94,"d":245,"g":1},{"t":2021.34,"d":258,"g":1},{"t":2021.73,"d":270,"g":1},{"t":2022.13,"d":285,"g":1},{"t":2022.52,"d":298,"g":1},{"t":2022.91,"d":318,"g":1},{"t":2023.31,"d":337,"g":1},{"t":2023.65,"d":358,"g":1},
{"t":2023.70,"d":0,"g":2},{"t":2024.09,"d":21,"g":2},{"t":2024.49,"d":34,"g":2},{"t":2024.88,"d":48,"g":2},{"t":2025.28,"d":56,"g":2},{"t":2025.67,"d":68,"g":2},{"t":2026.06,"d":75,"g":2},{"t":2026.46,"d":86,"g":2},{"t":2026.85,"d":92,"g":2},{"t":2027.24,"d":102,"g":2},{"t":2027.64,"d":107,"g":2},{"t":2028.03,"d":117,"g":2},{"t":2028.43,"d":122,"g":2},{"t":2028.82,"d":133,"g":2},{"t":2029.21,"d":139,"g":2},{"t":2029.61,"d":150,"g":2},{"t":2030.00,"d":156,"g":2},{"t":2030.39,"d":168,"g":2},{"t":2030.79,"d":174,"g":2},{"t":2031.18,"d":186,"g":2},{"t":2031.58,"d":193,"g":2},{"t":2031.97,"d":205,"g":2},{"t":2032.36,"d":213,"g":2},{"t":2032.76,"d":226,"g":2},{"t":2033.15,"d":234,"g":2},{"t":2033.54,"d":247,"g":2},{"t":2033.94,"d":256,"g":2},{"t":2034.33,"d":272,"g":2},{"t":2034.73,"d":283,"g":2},{"t":2035.12,"d":300,"g":2},{"t":2035.51,"d":316,"g":2},{"t":2035.91,"d":339,"g":2},{"t":2036.25,"d":357,"g":2},
{"t":2036.30,"d":2,"g":3},{"t":2036.69,"d":17,"g":3},{"t":2037.09,"d":37,"g":3},{"t":2037.48,"d":45,"g":3},{"t":2037.88,"d":59,"g":3},{"t":2038.27,"d":65,"g":3},{"t":2038.66,"d":78,"g":3},{"t":2039.06,"d":83,"g":3},{"t":2039.45,"d":95,"g":3},{"t":2039.84,"d":99,"g":3},{"t":2040.24,"d":110,"g":3},{"t":2040.63,"d":114,"g":3},{"t":2041.03,"d":126,"g":3},{"t":2041.42,"d":130,"g":3},{"t":2041.81,"d":142,"g":3},{"t":2042.21,"d":147,"g":3},{"t":2042.60,"d":159,"g":3},{"t":2042.99,"d":165,"g":3},{"t":2043.39,"d":177,"g":3},{"t":2043.78,"d":183,"g":3},{"t":2044.18,"d":196,"g":3},{"t":2044.57,"d":202,"g":3},{"t":2044.96,"d":216,"g":3},{"t":2045.36,"d":223,"g":3},{"t":2045.75,"d":237,"g":3},{"t":2046.14,"d":244,"g":3},{"t":2046.54,"d":259,"g":3},{"t":2046.93,"d":269,"g":3},{"t":2047.33,"d":286,"g":3},{"t":2047.72,"d":297,"g":3},{"t":2048.11,"d":319,"g":3},{"t":2048.51,"d":336,"g":3},{"t":2048.85,"d":359,"g":3},
{"t":2048.90,"d":1,"g":4},{"t":2049.29,"d":19,"g":4},{"t":2049.69,"d":36,"g":4},{"t":2050.08,"d":47,"g":4},{"t":2050.48,"d":58,"g":4},{"t":2050.87,"d":66,"g":4},{"t":2051.26,"d":77,"g":4},{"t":2051.66,"d":84,"g":4},{"t":2052.05,"d":93,"g":4},{"t":2052.44,"d":100,"g":4},{"t":2052.84,"d":109,"g":4},{"t":2053.23,"d":115,"g":4},{"t":2053.63,"d":124,"g":4},{"t":2054.02,"d":131,"g":4},{"t":2054.41,"d":141,"g":4},{"t":2054.81,"d":148,"g":4},{"t":2055.20,"d":158,"g":4},{"t":2055.59,"d":166,"g":4},{"t":2055.99,"d":176,"g":4},{"t":2056.38,"d":184,"g":4},{"t":2056.78,"d":195,"g":4},{"t":2057.17,"d":203,"g":4},{"t":2057.56,"d":215,"g":4},{"t":2057.96,"d":224,"g":4},{"t":2058.35,"d":236,"g":4},{"t":2058.74,"d":245,"g":4},{"t":2059.14,"d":258,"g":4},{"t":2059.53,"d":270,"g":4},{"t":2059.93,"d":285,"g":4},{"t":2060.32,"d":298,"g":4},{"t":2060.71,"d":318,"g":4},{"t":2061.11,"d":337,"g":4},{"t":2061.55,"d":358,"g":4},
{"t":2061.60,"d":0,"g":5},{"t":2061.99,"d":21,"g":5},{"t":2062.39,"d":34,"g":5},{"t":2062.78,"d":48,"g":5},{"t":2063.18,"d":56,"g":5},{"t":2063.57,"d":68,"g":5},{"t":2063.96,"d":75,"g":5},{"t":2064.36,"d":86,"g":5},{"t":2064.75,"d":92,"g":5},{"t":2065.14,"d":102,"g":5},{"t":2065.54,"d":107,"g":5},{"t":2065.93,"d":117,"g":5},{"t":2066.33,"d":122,"g":5},{"t":2066.72,"d":133,"g":5},{"t":2067.11,"d":139,"g":5},{"t":2067.51,"d":150,"g":5},{"t":2067.90,"d":156,"g":5},{"t":2068.29,"d":168,"g":5},{"t":2068.69,"d":174,"g":5},{"t":2069.08,"d":186,"g":5},{"t":2069.48,"d":193,"g":5},{"t":2069.87,"d":205,"g":5},{"t":2070.26,"d":213,"g":5},{"t":2070.66,"d":226,"g":5},{"t":2071.05,"d":234,"g":5},{"t":2071.44,"d":247,"g":5},{"t":2071.84,"d":256,"g":5},{"t":2072.23,"d":272,"g":5},{"t":2072.63,"d":283,"g":5},{"t":2073.02,"d":300,"g":5},{"t":2073.41,"d":316,"g":5},{"t":2073.81,"d":339,"g":5},{"t":2074.15,"d":357,"g":5},
{"t":2074.20,"d":2,"g":6},{"t":2074.59,"d":17,"g":6},{"t":2074.99,"d":37,"g":6},{"t":2075.38,"d":45,"g":6},{"t":2075.78,"d":59,"g":6},{"t":2076.17,"d":65,"g":6},{"t":2076.56,"d":78,"g":6},{"t":2076.96,"d":83,"g":6},{"t":2077.35,"d":95,"g":6},{"t":2077.74,"d":99,"g":6},{"t":2078.14,"d":110,"g":6},{"t":2078.53,"d":114,"g":6},{"t":2078.93,"d":126,"g":6},{"t":2079.32,"d":130,"g":6},{"t":2079.71,"d":142,"g":6},{"t":2080.11,"d":147,"g":6},{"t":2080.50,"d":159,"g":6},{"t":2080.89,"d":165,"g":6},{"t":2081.29,"d":177,"g":6},{"t":2081.68,"d":183,"g":6},{"t":2082.08,"d":196,"g":6},{"t":2082.47,"d":202,"g":6},{"t":2082.86,"d":216,"g":6},{"t":2083.26,"d":223,"g":6},{"t":2083.65,"d":237,"g":6},{"t":2084.04,"d":244,"g":6},{"t":2084.44,"d":259,"g":6},{"t":2084.83,"d":269,"g":6},{"t":2085.23,"d":286,"g":6},{"t":2085.62,"d":297,"g":6},{"t":2086.01,"d":319,"g":6},{"t":2086.41,"d":336,"g":6},{"t":2086.75,"d":359,"g":6},
{"t":2086.80,"d":1,"g":7},{"t":2087.19,"d":19,"g":7},{"t":2087.59,"d":36,"g":7},{"t":2087.98,"d":47,"g":7},{"t":2088.38,"d":58,"g":7},{"t":2088.77,"d":66,"g":7},{"t":2089.16,"d":77,"g":7},{"t":2089.56,"d":84,"g":7},{"t":2089.95,"d":93,"g":7},{"t":2090.34,"d":100,"g":7},{"t":2090.74,"d":109,"g":7},{"t":2091.13,"d":115,"g":7},{"t":2091.53,"d":124,"g":7},{"t":2091.92,"d":131,"g":7},{"t":2092.31,"d":141,"g":7},{"t":2092.71,"d":148,"g":7},{"t":2093.10,"d":158,"g":7},{"t":2093.49,"d":166,"g":7},{"t":2093.89,"d":176,"g":7},{"t":2094.28,"d":184,"g":7},{"t":2094.68,"d":195,"g":7},{"t":2095.07,"d":203,"g":7},{"t":2095.46,"d":215,"g":7},{"t":2095.86,"d":224,"g":7},{"t":2096.25,"d":236,"g":7},{"t":2096.64,"d":245,"g":7},{"t":2097.04,"d":258,"g":7},{"t":2097.43,"d":270,"g":7},{"t":2097.83,"d":285,"g":7},{"t":2098.22,"d":298,"g":7},{"t":2098.61,"d":318,"g":7},{"t":2099.01,"d":337,"g":7},{"t":2099.35,"d":358,"g":7},
{"t":2099.40,"d":1,"g":8},{"t":2099.79,"d":19,"g":8},{"t":2100.19,"d":35,"g":8},{"t":2100.58,"d":47,"g":8},{"t":2100.98,"d":57,"g":8}
]
},
"spacing":27,
"vconcat":[
{
"spacing":10,
"hconcat":[
{"width":8,"height":10,"view":{"stroke":null},"data":{"values":[{"a":1}]},"mark":{"type":"point","opacity":0,"size":1}},
{
"width":840,"height":593,
"view":{"stroke":"#8c8c8c","strokeWidth":2},
"resolve":{"scale":{"x":"independent","y":"independent"}},
"layer":[
{
"layer":[
{"data":{"name":"etv"},"mark":{"type":"area","color":"#f9b1a6","opacity":0.55},"encoding":{
"x":{"field":"x","type":"quantitative","scale":{"domain":[2000,2100],"nice":false,"zero":false},
"axis":{"orient":"bottom","values":[2000,2020,2040,2060,2080,2100],"format":"d","labelOverlap":false,"tickSize":-14,"labelFontSize":27.5,"labelPadding":39,"title":"Calendar Year","titleFontSize":28,"titlePadding":33}},
"y":{"field":"rl","type":"quantitative","scale":{"domain":[-0.13,0.11],"nice":false,"zero":false},
"axis":{"orient":"left","values":[-0.1,-0.05,0,0.05,0.1],"format":".2f","labelOverlap":false,"tickSize":-14,"labelFontSize":27.5,"labelPadding":28,"title":"ETV [in days]","titleFontSize":28,"titlePadding":22}},"y2":{"field":"rh"}}},
{"data":{"name":"etv"},"mark":{"type":"rule","color":"#f46a58","strokeWidth":1.3},"encoding":{"x":{"field":"x","type":"quantitative"},"y":{"field":"rl","type":"quantitative"},"y2":{"field":"rh"}}},
{"data":{"name":"etv"},"mark":{"type":"area","color":"#a8c5e0","opacity":0.55},"encoding":{"x":{"field":"x","type":"quantitative"},"y":{"field":"bl","type":"quantitative"},"y2":{"field":"bh"}}},
{"data":{"name":"etv"},"mark":{"type":"rule","color":"#4a84bc","strokeWidth":1.3},"encoding":{"x":{"field":"x","type":"quantitative"},"y":{"field":"bl","type":"quantitative"},"y2":{"field":"bh"}}},
{"data":{"name":"blk"},"mark":{"type":"line","color":"#333333","strokeWidth":5,"strokeDash":[1.6,1.2]},"encoding":{"x":{"field":"x","type":"quantitative"},"y":{"field":"k","type":"quantitative"}}},
{"data":{"name":"blk"},"mark":{"type":"line","color":"#000000","strokeWidth":1.2},"encoding":{"x":{"field":"x","type":"quantitative"},"y":{"field":"k","type":"quantitative"}}},
{"data":{"name":"obs"},"transform":[{"filter":"datum.s == 'p'"}],"mark":{"type":"point","shape":"circle","filled":true,"size":85,"color":"#ff0000","opacity":0.9},"encoding":{"x":{"field":"x","type":"quantitative"},"y":{"field":"v","type":"quantitative"}}},
{"data":{"name":"obs"},"transform":[{"filter":"datum.s == 's'"}],"mark":{"type":"point","shape":"square","filled":true,"size":60,"color":"#1a2cff","opacity":0.85},"encoding":{"x":{"field":"x","type":"quantitative"},"y":{"field":"v","type":"quantitative"}}},
{"data":{"values":[{"a":1}]},"mark":{"type":"text","fontSize":28,"align":"left","baseline":"middle","color":"#000000"},"encoding":{"x":{"datum":2003.2},"y":{"datum":-0.1158},"text":{"value":"TIC 650024463"}}},
{"data":{"values":[{"a":1}]},"mark":{"type":"text","fontSize":28,"align":"right","baseline":"middle","color":"#000000"},"encoding":{"x":{"datum":2096.4},"y":{"datum":-0.1158},"text":{"value":"T₀=2458330.726 P=7.196905ᵈ"}}}
]
},
{
"data":{"values":[{"mx":2000,"my":-0.13},{"mx":2100,"my":0.11}]},
"mark":{"type":"point","opacity":0},
"encoding":{
"x":{"field":"mx","type":"quantitative","scale":{"domain":[2000,2100],"nice":false,"zero":false},"axis":{"orient":"bottom","values":[2000,2004,2008,2012,2016,2020,2024,2028,2032,2036,2040,2044,2048,2052,2056,2060,2064,2068,2072,2076,2080,2084,2088,2092,2096,2100],"labels":false,"title":null,"tickSize":-8}},
"y":{"field":"my","type":"quantitative","scale":{"domain":[-0.13,0.11],"nice":false,"zero":false},"axis":{"orient":"left","values":[-0.13,-0.12,-0.11,-0.1,-0.09,-0.08,-0.07,-0.06,-0.05,-0.04,-0.03,-0.02,-0.01,0,0.01,0.02,0.03,0.04,0.05,0.06,0.07,0.08,0.09,0.1,0.11],"labels":false,"title":null,"tickSize":-8}}
}
},
{
"data":{"values":[{"mx":2000,"my":-0.13},{"mx":2100,"my":0.11}]},
"mark":{"type":"point","opacity":0},
"encoding":{
"x":{"field":"mx","type":"quantitative","scale":{"domain":[2000,2100],"nice":false,"zero":false},"axis":{"orient":"top","values":[2000,2004,2008,2012,2016,2020,2024,2028,2032,2036,2040,2044,2048,2052,2056,2060,2064,2068,2072,2076,2080,2084,2088,2092,2096,2100],"labels":false,"title":null,"tickSize":{"condition":{"test":"datum.value % 20 === 0","value":-14},"value":-8}}},
"y":{"field":"my","type":"quantitative","scale":{"domain":[-0.13,0.11],"nice":false,"zero":false},"axis":{"orient":"right","values":[-0.13,-0.12,-0.11,-0.1,-0.09,-0.08,-0.07,-0.06,-0.05,-0.04,-0.03,-0.02,-0.01,0,0.01,0.02,0.03,0.04,0.05,0.06,0.07,0.08,0.09,0.1,0.11],"labels":false,"title":null,"tickSize":{"condition":{"test":"abs(round(datum.value*100)) % 5 === 0","value":-14},"value":-8}}}
}
}
]
}
]
},
{
"spacing":22,
"resolve":{"scale":{"color":"independent"},"legend":{"color":"independent"}},
"hconcat":[
{
"width":502,"height":295,
"view":{"stroke":"#222","strokeWidth":1},
"resolve":{"scale":{"x":"independent","y":"independent"}},
"layer":[
{
"encoding":{
"x":{"field":"t","type":"quantitative","scale":{"domain":[2008.52,2101.67],"nice":false,"zero":false},"axis":{"orient":"bottom","values":[2010,2012,2014,2016,2018,2020,2022,2024,2026,2028,2030,2032,2034,2036,2038,2040,2042,2044,2046,2048,2050,2052,2054,2056,2058,2060,2062,2064,2066,2068,2070,2072,2074,2076,2078,2080,2082,2084,2086,2088,2090,2092,2094,2096,2098,2100],"format":"d","labelOverlap":false,"labelExpr":"datum.value % 10 === 0 ? datum.label : ''","labelFontSize":{"condition":{"test":"datum.value % 10 === 0","value":15},"value":0},"tickSize":{"condition":{"test":"datum.value % 10 === 0","value":-8},"value":-4},"labelPadding":23,"title":"Calendar Year","titleFontSize":15.5,"titlePadding":16}},
"y":{"field":"w","type":"quantitative","scale":{"domain":[0,450],"nice":false},"axis":{"orient":"left","values":[0,10,20,30,40,50,60,70,80,90,100,110,120,130,140,150,160,170,180,190,200,210,220,230,240,250,260,270,280,290,300,310,320,330,340,350,360,370,380,390,400,410,420,430,440,450],"labelOverlap":false,"labelExpr":"(datum.value % 60 === 0 && datum.value <= 420) ? datum.label : ''","labelFontSize":{"condition":{"test":"datum.value % 60 === 0 && datum.value <= 420","value":15},"value":0},"tickSize":{"condition":{"test":"datum.value % 60 === 0","value":-8},"value":-4},"labelPadding":16,"title":"Argument of periastron [in deg]","titleFontSize":15,"titlePadding":10}}
},
"layer":[
{"data":{"name":"odyn"},"mark":{"type":"line","strokeWidth":1},"encoding":{"detail":{"field":"g","type":"nominal"},"color":{"datum":"ωₒᵤₜᵈʸⁿ","scale":{"domain":["ωᵢₙ","ωₒᵤₜ","ωᵢₙᵈʸⁿ","ωₒᵤₜᵈʸⁿ"],"range":["#ff0000","#0000ff","#000000","#b4b4b4"]},
"legend":{"orient":"none","legendX":4,"legendY":8,"direction":"horizontal","title":" ","titleOrient":"left","titleFontSize":15,"titlePadding":29,"strokeColor":"#555","fillColor":"#ffffff","padding":9,"columnPadding":42,"labelFontSize":16.5,"symbolSize":1600,
"encode":{"labels":{"update":{"x":{"value":0},"align":{"value":"left"}}},"symbols":{"update":{"x":{"signal":"datum.value == 'ωᵢₙ' ? 50 : (datum.value == 'ωₒᵤₜ' ? 59 : (datum.value == 'ωᵢₙᵈʸⁿ' ? 69 : 76))"},"shape":{"signal":"(datum.value == 'ωₒᵤₜ' || datum.value == 'ωₒᵤₜᵈʸⁿ') ? 'stroke' : 'circle'"},"size":{"signal":"(datum.value == 'ωₒᵤₜ' || datum.value == 'ωₒᵤₜᵈʸⁿ') ? 1849 : 12"},"stroke":{"signal":"datum.value == 'ωₒᵤₜ' ? '#0000ff' : (datum.value == 'ωₒᵤₜᵈʸⁿ' ? '#b4b4b4' : 'transparent')"},"fill":{"signal":"datum.value == 'ωᵢₙ' ? '#ff0000' : (datum.value == 'ωᵢₙᵈʸⁿ' ? '#000000' : 'transparent')"},"strokeWidth":{"value":1.6},"opacity":{"value":1}}}}}}}},
{"data":{"name":"idyn"},"mark":{"type":"line","strokeWidth":2.6},"encoding":{"detail":{"field":"g","type":"nominal"},"color":{"datum":"ωᵢₙᵈʸⁿ"},"strokeDash":{"field":"q","type":"nominal","scale":{"domain":["s","d"],"range":[[1,0],[4,2.5]]},"legend":null}}},
{"data":{"name":"win"},"mark":{"type":"point","filled":true,"size":24,"opacity":1},"encoding":{"color":{"datum":"ωᵢₙ"}}},
{"data":{"name":"wout"},"mark":{"type":"line","strokeWidth":2},"encoding":{"detail":{"field":"g","type":"nominal"},"color":{"datum":"ωₒᵤₜ"}}}
]
},
{
"data":{"values":[{"p":-36.06,"q":0},{"p":276.1,"q":450}]},
"mark":{"type":"point","opacity":0},
"encoding":{
"x":{"field":"p","type":"quantitative","scale":{"domain":[-36.06,276.1],"nice":false,"zero":false},"axis":{"orient":"top","values":[-30,-20,-10,0,10,20,30,40,50,60,70,80,90,100,110,120,130,140,150,160,170,180,190,200,210,220,230,240,250,260,270],"labelOverlap":false,"labelExpr":"datum.value % 50 === 0 ? datum.label : ''","labelFontSize":{"condition":{"test":"datum.value % 50 === 0","value":15},"value":0},"tickSize":{"condition":{"test":"datum.value % 50 === 0","value":-8},"value":-4},"labelPadding":23,"title":"Mean orbital phase of the wide orbit","titleFontSize":15.5,"titlePadding":14}},
"y":{"field":"q","type":"quantitative","scale":{"domain":[0,450],"nice":false},"axis":{"orient":"right","values":[0,10,20,30,40,50,60,70,80,90,100,110,120,130,140,150,160,170,180,190,200,210,220,230,240,250,260,270,280,290,300,310,320,330,340,350,360,370,380,390,400,410,420,430,440,450],"labels":false,"title":null,"tickSize":{"condition":{"test":"datum.value % 60 === 0","value":-8},"value":-4}}}
}
}
]
},
{
"width":412,"height":295,
"view":{"stroke":"#222","strokeWidth":1},
"resolve":{"scale":{"x":"independent"}},
"layer":[
{
"encoding":{"x":{"field":"t","type":"quantitative","scale":{"domain":[2009.3,2101.1],"nice":false,"zero":false},"axis":{"orient":"bottom","values":[2010,2012,2014,2016,2018,2020,2022,2024,2026,2028,2030,2032,2034,2036,2038,2040,2042,2044,2046,2048,2050,2052,2054,2056,2058,2060,2062,2064,2066,2068,2070,2072,2074,2076,2078,2080,2082,2084,2086,2088,2090,2092,2094,2096,2098,2100],"format":"d","labelOverlap":false,"labelExpr":"datum.value % 10 === 0 ? datum.label : ''","labelFontSize":{"condition":{"test":"datum.value % 10 === 0","value":15},"value":0},"tickSize":{"condition":{"test":"datum.value % 10 === 0","value":-8},"value":-4},"labelPadding":23,"title":"Calendar Year","titleFontSize":15.5,"titlePadding":16}}},
"resolve":{"scale":{"y":"independent"}},
"layer":[
{"data":{"name":"dw"},"mark":{"type":"line","strokeWidth":1.6},"encoding":{"y":{"field":"d","type":"quantitative","scale":{"domain":[0,450],"nice":false},"axis":{"orient":"right","values":[0,10,20,30,40,50,60,70,80,90,100,110,120,130,140,150,160,170,180,190,200,210,220,230,240,250,260,270,280,290,300,310,320,330,340,350,360,370,380,390,400,410,420,430,440,450],"labelOverlap":false,"labelExpr":"(datum.value % 60 === 0 && datum.value <= 420) ? datum.label : ''","labelFontSize":{"condition":{"test":"datum.value % 60 === 0 && datum.value <= 420","value":15},"value":0},"tickSize":{"condition":{"test":"datum.value % 60 === 0","value":-8},"value":-4},"labelPadding":18,"title":"(ωᵢₙᵈʸⁿ − ωₒᵤₜᵈʸⁿ) [in deg]","titleFontSize":15,"titlePadding":12,"titleAngle":270,"titleBaseline":"top"}},"detail":{"field":"g","type":"nominal"},
"color":{"datum":"ωᵢₙᵈʸⁿ − ωₒᵤₜᵈʸⁿ","scale":{"domain":["eᵢₙ","ωᵢₙᵈʸⁿ − ωₒᵤₜᵈʸⁿ"],"range":["#ff2020","#0a0aff"]},
"legend":{"orient":"none","legendX":4,"legendY":9,"direction":"horizontal","title":" ","titleOrient":"left","titleFontSize":15,"titlePadding":105,"strokeColor":"#555","fillColor":"#ffffff","padding":11,"columnPadding":35,"labelFontSize":16.5,"symbolSize":2025,
"encode":{"labels":{"update":{"x":{"value":0},"align":{"value":"left"}}},"symbols":{"update":{"x":{"signal":"datum.value == 'eᵢₙ' ? 47 : 135"},"shape":{"signal":"datum.value == 'eᵢₙ' ? 'stroke' : 'circle'"},"size":{"signal":"datum.value == 'eᵢₙ' ? 2025 : 14"},"stroke":{"signal":"datum.value == 'eᵢₙ' ? '#ff3030' : 'transparent'"},"fill":{"signal":"datum.value == 'eᵢₙ' ? 'transparent' : '#0a0aff'"},"strokeWidth":{"value":1.6},"opacity":{"value":1}}}}}}}},
{"data":{"name":"ecc"},"mark":{"type":"area","opacity":0.7},"encoding":{"y":{"field":"lo","type":"quantitative","scale":{"domain":[0.01,0.04],"nice":false,"zero":false},"axis":{"orient":"left","values":[0.01,0.012,0.014,0.016,0.018,0.02,0.022,0.024,0.026,0.028,0.03,0.032,0.034,0.036,0.038,0.04],"format":".2f","labelOverlap":false,"labelExpr":"abs(datum.value*100 - round(datum.value*100)) < 0.001 ? datum.label : ''","labelFontSize":{"condition":{"test":"abs(datum.value*100 - round(datum.value*100)) < 0.001","value":15},"value":0},"tickSize":{"condition":{"test":"abs(datum.value*100 - round(datum.value*100)) < 0.001","value":-8},"value":-4},"labelPadding":16,"title":"Eccentricity (eᵢₙ)","titleFontSize":15,"titlePadding":12}},"y2":{"field":"hi"},"color":{"datum":"eᵢₙ"}}},
{"data":{"name":"ecc"},"mark":{"type":"rule","opacity":0.5,"strokeWidth":1.2},"encoding":{"y":{"field":"lo","type":"quantitative","scale":{"domain":[0.01,0.04],"nice":false,"zero":false},"axis":null},"y2":{"field":"hi"},"color":{"datum":"eᵢₙ"}}},
{"data":{"name":"ecc"},"mark":{"type":"line","strokeWidth":4,"opacity":0.9},"encoding":{"y":{"field":"mid","type":"quantitative","scale":{"domain":[0.01,0.04],"nice":false,"zero":false},"axis":null},"color":{"datum":"eᵢₙ"}}},
{"data":{"name":"dw"},"mark":{"type":"line","strokeWidth":1.6,"color":"#0a0aff"},"encoding":{"y":{"field":"d","type":"quantitative","scale":{"domain":[0,450],"nice":false},"axis":null},"detail":{"field":"g","type":"nominal"}}},
{"data":{"name":"dw"},"mark":{"type":"point","filled":true,"size":18,"opacity":1,"color":"#0a0aff"},"encoding":{"y":{"field":"d","type":"quantitative","scale":{"domain":[0,450],"nice":false},"axis":null}}}
]
},
{
"data":{"values":[{"p":-36.3},{"p":275}]},
"mark":{"type":"point","opacity":0},
"encoding":{
"x":{"field":"p","type":"quantitative","scale":{"domain":[-36.3,275],"nice":false,"zero":false},"axis":{"orient":"top","values":[-30,-20,-10,0,10,20,30,40,50,60,70,80,90,100,110,120,130,140,150,160,170,180,190,200,210,220,230,240,250,260,270],"labelOverlap":false,"labelExpr":"datum.value % 50 === 0 ? datum.label : ''","labelFontSize":{"condition":{"test":"datum.value % 50 === 0","value":15},"value":0},"tickSize":{"condition":{"test":"datum.value % 50 === 0","value":-8},"value":-4},"labelPadding":23,"title":"Mean orbital phase of the wide orbit","titleFontSize":15.5,"titlePadding":14}}
}
}
]
}
]
}
]
}
